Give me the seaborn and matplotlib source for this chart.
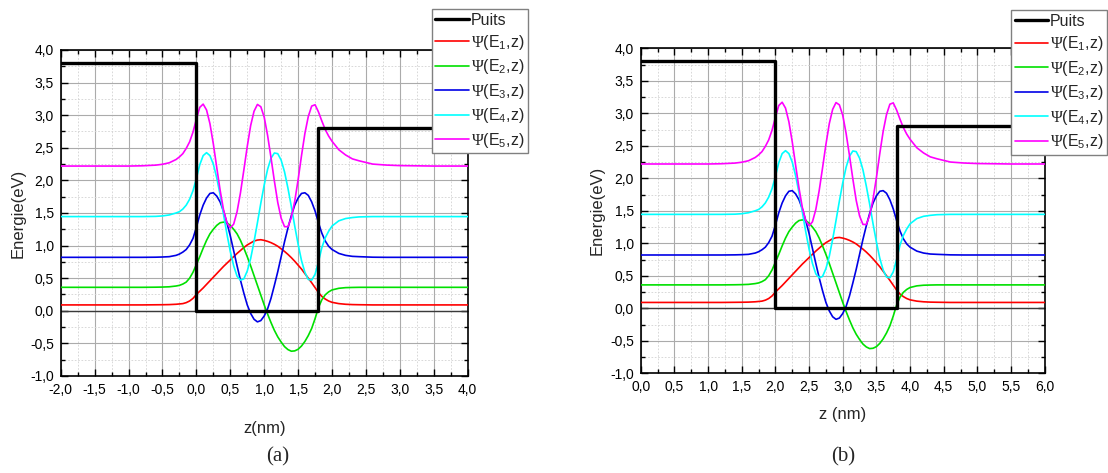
import matplotlib
matplotlib.use('Agg')
import matplotlib.pyplot as plt
from matplotlib.lines import Line2D
from matplotlib.ticker import MultipleLocator, FuncFormatter
import pandas as pd
import seaborn as sns

# positions (nm) for panel (a); the well is between 0 and 1.8 nm
z_a = [-2.0, -1.0, -0.8, -0.6, -0.5, -0.4, -0.3, -0.25, -0.2, -0.15, -0.1, -0.05,
       0.0, 0.05, 0.1, 0.15, 0.2, 0.25, 0.3, 0.35, 0.4, 0.45, 0.5, 0.55, 0.6, 0.65,
       0.7, 0.75, 0.8, 0.85, 0.9, 0.95, 1.0, 1.05, 1.1, 1.15, 1.2, 1.25, 1.3, 1.35,
       1.4, 1.45, 1.5, 1.55, 1.6, 1.65, 1.7, 1.75, 1.8,
       1.85, 1.9, 1.95, 2.0, 2.1, 2.2, 2.3, 2.4, 2.6, 2.8, 3.0, 3.5, 4.0]

# E_n + psi_n(z) (eV)
psi1 = [0.09, 0.09, 0.09, 0.092, 0.093, 0.095, 0.10, 0.105, 0.11, 0.125, 0.15, 0.19,
        0.25, 0.30, 0.35, 0.405, 0.46, 0.515, 0.57, 0.625, 0.68, 0.73, 0.78, 0.83, 0.88,
        0.925, 0.97, 1.01, 1.04, 1.07, 1.085, 1.09, 1.08, 1.065, 1.045, 1.02, 0.99, 0.95,
        0.91, 0.865, 0.815, 0.76, 0.70, 0.64, 0.57, 0.50, 0.43, 0.355, 0.28,
        0.22, 0.18, 0.15, 0.13, 0.11, 0.10, 0.095, 0.093, 0.09, 0.09, 0.09, 0.09, 0.09]
psi2 = [0.36, 0.36, 0.36, 0.362, 0.364, 0.368, 0.38, 0.39, 0.41, 0.44, 0.50, 0.59,
        0.71, 0.83, 0.96, 1.08, 1.18, 1.25, 1.31, 1.35, 1.36, 1.35, 1.31, 1.25, 1.18,
        1.08, 0.96, 0.83, 0.69, 0.54, 0.39, 0.24, 0.09, -0.05, -0.18, -0.30, -0.40, -0.48,
        -0.55, -0.595, -0.62, -0.615, -0.59, -0.54, -0.47, -0.38, -0.27, -0.12, 0.05,
        0.17, 0.245, 0.29, 0.32, 0.345, 0.355, 0.358, 0.36, 0.36, 0.36, 0.36, 0.36, 0.36]
psi3 = [0.82, 0.82, 0.82, 0.822, 0.825, 0.83, 0.85, 0.87, 0.90, 0.94, 1.01, 1.11,
        1.28, 1.47, 1.62, 1.73, 1.80, 1.81, 1.76, 1.67, 1.53, 1.35, 1.15, 0.92, 0.69,
        0.47, 0.27, 0.09, -0.04, -0.13, -0.17, -0.15, -0.08, 0.03, 0.19, 0.39, 0.60, 0.83,
        1.06, 1.27, 1.46, 1.62, 1.73, 1.80, 1.81, 1.77, 1.67, 1.53, 1.35,
        1.19, 1.07, 0.99, 0.94, 0.88, 0.85, 0.835, 0.83, 0.822, 0.82, 0.82, 0.82, 0.82]
psi4 = [1.445, 1.445, 1.445, 1.448, 1.455, 1.47, 1.50, 1.52, 1.56, 1.62, 1.71, 1.84,
        2.03, 2.24, 2.38, 2.425, 2.38, 2.25, 2.04, 1.78, 1.48, 1.18, 0.91, 0.69, 0.53,
        0.47, 0.49, 0.61, 0.80, 1.06, 1.35, 1.65, 1.93, 2.17, 2.34, 2.42, 2.41, 2.31,
        2.13, 1.88, 1.60, 1.30, 1.02, 0.77, 0.59, 0.48, 0.47, 0.56, 0.75,
        0.97, 1.12, 1.22, 1.30, 1.38, 1.415, 1.43, 1.44, 1.445, 1.445, 1.445, 1.445, 1.445]
psi5 = [2.22, 2.22, 2.224, 2.234, 2.247, 2.27, 2.32, 2.36, 2.41, 2.49, 2.59, 2.74,
        2.94, 3.12, 3.17, 3.08, 2.87, 2.56, 2.20, 1.85, 1.55, 1.35, 1.27, 1.33, 1.52,
        1.81, 2.16, 2.52, 2.84, 3.06, 3.165, 3.13, 2.97, 2.69, 2.35, 1.99, 1.66, 1.42,
        1.29, 1.29, 1.43, 1.68, 2.01, 2.38, 2.72, 2.98, 3.14, 3.16, 3.05,
        2.91, 2.78, 2.68, 2.60, 2.47, 2.39, 2.33, 2.30, 2.25, 2.235, 2.227, 2.22, 2.22]

# potential profile ("Puits")
well_z_a = [-2.0, 0.0, 0.0, 1.8, 1.8, 4.0]
well_v = [3.8, 3.8, 0.0, 0.0, 2.8, 2.8]

# panel (b) shows the same well placed between 2.0 and 3.8 nm
shift_b = 2.0

states = ['$\\mathsf{\\Psi}$(E$_1$,z)', '$\\mathsf{\\Psi}$(E$_2$,z)',
          '$\\mathsf{\\Psi}$(E$_3$,z)', '$\\mathsf{\\Psi}$(E$_4$,z)',
          '$\\mathsf{\\Psi}$(E$_5$,z)']
colors = ['#ff0000', '#00e000', '#0000e6', '#00ffff', '#ff00ff']

sns.set_style('ticks')
plt.rcParams['font.family'] = ['Liberation Sans', 'DejaVu Sans']
plt.rcParams['mathtext.fontset'] = 'custom'
plt.rcParams['mathtext.rm'] = 'Liberation Sans'
plt.rcParams['mathtext.it'] = 'Liberation Sans'
plt.rcParams['mathtext.sf'] = 'Liberation Serif'


def make_frame(shift):
    rows = []
    for name, vals in zip(states, [psi1, psi2, psi3, psi4, psi5]):
        for z, e in zip(z_a, vals):
            rows.append({'z': z + shift, 'E': e, 'state': name})
    return pd.DataFrame(rows)


def comma(v, pos):
    return f'{v:.1f}'.replace('.', ',')


def draw_panel(ax, shift, xlabel, xlab_y, ylab_x):
    df = make_frame(shift)
    ax.axhline(0, color='#3a3a3a', lw=1.0, zorder=1.5)
    sns.lineplot(data=df, x='z', y='E', hue='state', palette=colors,
                 estimator=None, sort=False, legend=False, lw=1.2, ax=ax, zorder=3)
    sns.lineplot(x=[z + shift for z in well_z_a], y=well_v, color='black', lw=2.4,
                 estimator=None, sort=False, ax=ax, zorder=4)
    ax.set_xlim(-2.0 + shift, 4.0 + shift)
    ax.set_ylim(-1.0, 4.0)
    ax.xaxis.set_major_locator(MultipleLocator(0.5))
    ax.xaxis.set_minor_locator(MultipleLocator(0.25))
    ax.yaxis.set_major_locator(MultipleLocator(0.5))
    ax.yaxis.set_minor_locator(MultipleLocator(0.25))
    ax.xaxis.set_major_formatter(FuncFormatter(comma))
    ax.yaxis.set_major_formatter(FuncFormatter(comma))
    ax.set_axisbelow(True)
    ax.grid(which='major', color='#ababab', lw=0.8)
    ax.grid(which='minor', color='#d2d2d2', lw=0.6, ls=(0, (2, 2)))
    ax.tick_params(which='both', direction='in', top=True, right=True,
                   labelsize=10, width=1.0, colors='black', pad=5)
    ax.tick_params(which='major', length=5)
    ax.tick_params(which='minor', length=3)
    for s in ax.spines.values():
        s.set_linewidth(1.2)
        s.set_color('black')
    ax.set_xlabel(xlabel, fontsize=12)
    ax.set_ylabel('Energie(eV)', fontsize=12)
    ax.xaxis.set_label_coords(0.5, xlab_y)
    ax.yaxis.set_label_coords(ylab_x, 0.5)


fig = plt.figure(figsize=(11.08, 4.73), dpi=100)
ax_a = fig.add_axes([0.0548, 0.2051, 0.3673, 0.6892])
ax_b = fig.add_axes([0.5783, 0.2108, 0.3646, 0.6871])

draw_panel(ax_a, 0.0, 'z(nm)', -0.138, -0.086)
draw_panel(ax_b, shift_b, 'z (nm)', -0.105, -0.090)

handles = [Line2D([], [], color='black', lw=2.4)] + \
          [Line2D([], [], color=c, lw=1.2) for c in colors]
labels = ['Puits'] + states
for ax, anchor in [(ax_a, (527.5 / 1108, 1 - 9 / 473)),
                   (ax_b, (1107.0 / 1108, 1 - 10.5 / 473))]:
    leg = ax.legend(handles, labels, loc='upper right', bbox_to_anchor=anchor,
                    bbox_transform=fig.transFigure, borderaxespad=0, fontsize=11.5,
                    frameon=True, fancybox=False, framealpha=1, edgecolor='#808080',
                    handlelength=2.1, handletextpad=0.12, labelspacing=0.34,
                    borderpad=0.22)
    leg.get_frame().set_linewidth(1.0)
    leg.set_zorder(10)

fig.text(278 / 1108, 1 - 457 / 473, '(a)', ha='center', va='center', fontsize=15,
         family='Liberation Serif')
fig.text(843 / 1108, 1 - 457 / 473, '(b)', ha='center', va='center', fontsize=15,
         family='Liberation Serif')

fig.savefig('out.png', dpi=100)
